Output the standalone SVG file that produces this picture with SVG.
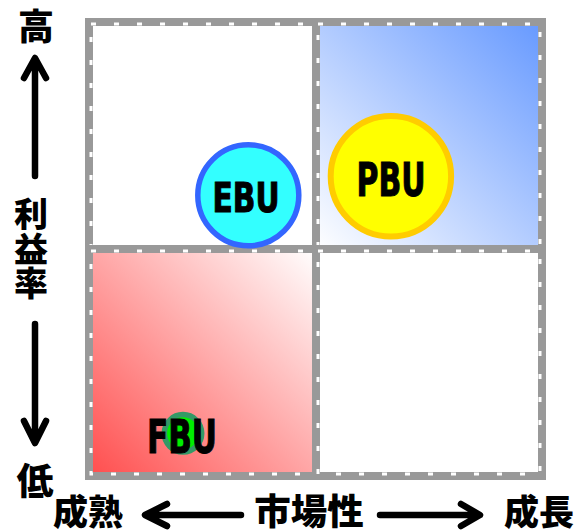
<svg xmlns="http://www.w3.org/2000/svg" width="577" height="530" viewBox="0 0 577 530">
  <defs>
    <linearGradient id="gBlue" x1="1" y1="0" x2="0" y2="1">
      <stop offset="0" stop-color="#6699ff"/>
      <stop offset="1" stop-color="#ffffff"/>
    </linearGradient>
    <linearGradient id="gRed" x1="0" y1="1" x2="1" y2="0">
      <stop offset="0" stop-color="#ff4d4d"/>
      <stop offset="1" stop-color="#ffffff"/>
    </linearGradient>
  </defs>
  <style>
    .quad { stroke: #999999; stroke-width: 8; }
    .dash { fill: none; stroke: #ffffff; stroke-width: 3; stroke-dasharray: 5 18; }
    .axis { font-family: "Noto Sans CJK JP", "Noto Sans CJK SC", sans-serif; font-weight: 900; fill: #000000; text-anchor: middle; }
    .lbl { font-family: "DejaVu Sans", "Liberation Sans", sans-serif; font-stretch: condensed; font-weight: bold; fill: #000000; stroke: #000000; stroke-width: 1; text-anchor: middle; }
    .arr { fill: none; stroke: #000000; stroke-width: 6.5; stroke-linecap: round; stroke-linejoin: round; }
  </style>
  <rect width="577" height="530" fill="#ffffff"/>

  <g id="quadrants">
    <g id="q-top-left">
      <rect class="quad" x="89" y="22" width="227" height="227" fill="#ffffff"/>
      <rect class="dash" x="91" y="24" width="223" height="223"/>
    </g>
    <g id="q-top-right">
      <rect class="quad" x="316" y="22" width="226" height="227" fill="url(#gBlue)"/>
      <rect class="dash" x="318" y="24" width="222" height="223"/>
    </g>
    <g id="q-bottom-left">
      <rect class="quad" x="89" y="249" width="227" height="227" fill="url(#gRed)"/>
      <rect class="dash" x="91" y="251" width="223" height="223"/>
    </g>
    <g id="q-bottom-right">
      <rect class="quad" x="316" y="249" width="226" height="227" fill="#ffffff"/>
      <rect class="dash" x="318" y="251" width="222" height="223"/>
    </g>
  </g>

  <g id="connectors">
    <path class="arr" d="M35 176 L35 59 M24 78 L35 58 L46 78"/>
    <path class="arr" d="M35 324 L35 442 M24 421 L35 443 L46 421"/>
    <path class="arr" d="M241 515 L146 515 M167 504 L145 515 L167 526"/>
    <path class="arr" d="M380 515 L477 515 M461 504 L480 515 L461 526"/>
  </g>

  <g id="axis-labels">
    <text class="axis" x="36" y="40" font-size="36">高</text>
    <text class="axis" x="31" y="227" font-size="34">利</text>
    <text class="axis" x="31" y="262" font-size="34">益</text>
    <text class="axis" x="31" y="296" font-size="34">率</text>
    <text class="axis" x="35" y="495" font-size="37">低</text>
    <text class="axis" x="88" y="525" font-size="35">成熟</text>
    <text class="axis" x="309" y="525" font-size="36.5">市場性</text>
    <text class="axis" x="539" y="525" font-size="35">成長</text>
  </g>

  <g id="node-EBU">
    <circle cx="248.3" cy="195.3" r="50.5" fill="#33ffff" stroke="#3366ff" stroke-width="5.5"/>
    <text class="lbl" x="246" y="211.5" font-size="41" textLength="67" lengthAdjust="spacingAndGlyphs">EBU</text>
  </g>
  <g id="node-PBU">
    <circle cx="390.9" cy="176.3" r="60.2" fill="#ffff00" stroke="#ffcc00" stroke-width="6"/>
    <text class="lbl" x="391" y="195.5" font-size="46" textLength="69" lengthAdjust="spacingAndGlyphs">PBU</text>
  </g>
  <g id="node-FBU">
    <circle cx="183" cy="433.3" r="18.7" fill="#00ee00" stroke="#339966" stroke-width="5.5"/>
    <text class="lbl" x="182" y="453" font-size="46" textLength="70" lengthAdjust="spacingAndGlyphs">FBU</text>
  </g>
</svg>
